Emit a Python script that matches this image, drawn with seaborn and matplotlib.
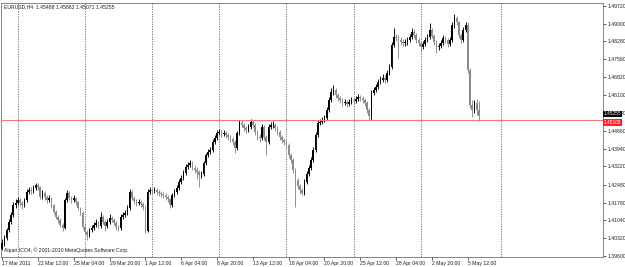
import numpy as np
import pandas as pd
import matplotlib
matplotlib.use("Agg")
import matplotlib.pyplot as plt
import matplotlib.transforms as mtransforms
import seaborn as sns

# ---------------- data ----------------
symbol_title = "EURUSD,H4  1.45488 1.45863 1.45071 1.45255"
copyright_text = "Alpari ICO4, \u00a9 2001-2010 MetaQuotes Software Corp."

first_open = 1.3990

closes = [
    1.4012, 1.4033, 1.4065, 1.4097, 1.4126, 1.4166, 1.4174, 1.4186, 1.4174, 1.4166,
    1.4186, 1.4219, 1.4227, 1.4223, 1.4235, 1.4247, 1.4239, 1.4199, 1.4215, 1.4199,
    1.4186, 1.4195, 1.4166, 1.4138, 1.4118, 1.4106, 1.4085, 1.4073, 1.4186, 1.4215,
    1.4195, 1.4186, 1.4195, 1.4178, 1.4154, 1.4134, 1.4077, 1.4057, 1.4045, 1.4065,
    1.4073, 1.4085, 1.4093, 1.4081, 1.4118, 1.4097, 1.4081, 1.4097, 1.4114, 1.4106,
    1.4093, 1.4077, 1.4073, 1.4118, 1.4126, 1.4134, 1.4154, 1.4219, 1.4195, 1.4182,
    1.4174, 1.4178, 1.4170, 1.4158, 1.4061, 1.4219, 1.4227, 1.4223, 1.4227, 1.4219,
    1.4215, 1.4211, 1.4207, 1.4199, 1.4190, 1.4166, 1.4207, 1.4219, 1.4235, 1.4259,
    1.4275, 1.4296, 1.4320, 1.4328, 1.4336, 1.4316, 1.4308, 1.4300, 1.4287, 1.4291,
    1.4336, 1.4368, 1.4380, 1.4389, 1.4421, 1.4437, 1.4457, 1.4461, 1.4453, 1.4457,
    1.4449, 1.4441, 1.4433, 1.4421, 1.4397, 1.4457, 1.4498, 1.4490, 1.4477, 1.4469,
    1.4481, 1.4502, 1.4490, 1.4461, 1.4441, 1.4437, 1.4481, 1.4441, 1.4421, 1.4481,
    1.4490, 1.4490, 1.4477, 1.4461, 1.4441, 1.4429, 1.4421, 1.4409, 1.4368, 1.4348,
    1.4308, 1.4267, 1.4243, 1.4227, 1.4215, 1.4259, 1.4291, 1.4316, 1.4348, 1.4389,
    1.4449, 1.4498, 1.4502, 1.4510, 1.4518, 1.4550, 1.4591, 1.4623, 1.4631, 1.4611,
    1.4599, 1.4591, 1.4579, 1.4583, 1.4575, 1.4583, 1.4591, 1.4587, 1.4595, 1.4603,
    1.4599, 1.4591, 1.4579, 1.4550, 1.4526, 1.4619, 1.4631, 1.4643, 1.4664, 1.4672,
    1.4680, 1.4672, 1.4700, 1.4724, 1.4813, 1.4845, 1.4841, 1.4833, 1.4825, 1.4821,
    1.4825, 1.4833, 1.4845, 1.4866, 1.4854, 1.4833, 1.4821, 1.4805, 1.4817, 1.4833,
    1.4845, 1.4874, 1.4850, 1.4825, 1.4805, 1.4809, 1.4821, 1.4841, 1.4833, 1.4817,
    1.4833, 1.4894, 1.4922, 1.4906, 1.4854, 1.4833, 1.4874, 1.4894, 1.4712, 1.4571,
    1.4550, 1.4579, 1.45488, 1.45255,
]

highs = [
    1.4030, 1.4045, 1.4075, 1.4108, 1.4138, 1.4178, 1.4190, 1.4198, 1.4195, 1.4182,
    1.4196, 1.4230, 1.4240, 1.4238, 1.4246, 1.4257, 1.4255, 1.4245, 1.4226, 1.4222,
    1.4206, 1.4208, 1.4200, 1.4172, 1.4145, 1.4126, 1.4112, 1.4092, 1.4196, 1.4226,
    1.4222, 1.4204, 1.4206, 1.4200, 1.4184, 1.4160, 1.4140, 1.4085, 1.4066, 1.4075,
    1.4085, 1.4098, 1.4110, 1.4102, 1.4138, 1.4125, 1.4104, 1.4108, 1.4130, 1.4122,
    1.4114, 1.4100, 1.4086, 1.4128, 1.4138, 1.4148, 1.4166, 1.4232, 1.4226, 1.4204,
    1.4192, 1.4190, 1.4186, 1.4178, 1.4166, 1.4230, 1.4240, 1.4236, 1.4238, 1.4234,
    1.4228, 1.4224, 1.4220, 1.4215, 1.4208, 1.4196, 1.4216, 1.4230, 1.4246, 1.4270,
    1.4288, 1.4308, 1.4332, 1.4342, 1.4350, 1.4344, 1.4326, 1.4318, 1.4308, 1.4302,
    1.4346, 1.4378, 1.4392, 1.4400, 1.4432, 1.4448, 1.4468, 1.4474, 1.4470, 1.4468,
    1.4466, 1.4458, 1.4450, 1.4440, 1.4428, 1.4466, 1.4510, 1.4508, 1.4496, 1.4486,
    1.4492, 1.4514, 1.4512, 1.4496, 1.4468, 1.4452, 1.4492, 1.4488, 1.4448, 1.4494,
    1.4502, 1.4504, 1.4498, 1.4484, 1.4468, 1.4450, 1.4438, 1.4428, 1.4416, 1.4376,
    1.4356, 1.4316, 1.4276, 1.4252, 1.4236, 1.4270, 1.4302, 1.4328, 1.4360, 1.4400,
    1.4460, 1.4510, 1.4516, 1.4522, 1.4530, 1.4562, 1.4604, 1.4640, 1.4651, 1.4640,
    1.4620, 1.4608, 1.4598, 1.4594, 1.4592, 1.4594, 1.4602, 1.4600, 1.4606, 1.4614,
    1.4612, 1.4608, 1.4600, 1.4586, 1.4558, 1.4630, 1.4644, 1.4656, 1.4676, 1.4686,
    1.4694, 1.4690, 1.4712, 1.4736, 1.4826, 1.4882, 1.4858, 1.4852, 1.4844, 1.4838,
    1.4836, 1.4846, 1.4858, 1.4882, 1.4876, 1.4862, 1.4842, 1.4830, 1.4828, 1.4846,
    1.4858, 1.4902, 1.4884, 1.4858, 1.4832, 1.4820, 1.4834, 1.4852, 1.4850, 1.4840,
    1.4846, 1.4906, 1.4939, 1.4930, 1.4912, 1.4862, 1.4886, 1.4908, 1.4906, 1.4720,
    1.4590, 1.4592, 1.4595, 1.45863,
]

lows = [
    1.3984, 1.4002, 1.4025, 1.4058, 1.4088, 1.4118, 1.4155, 1.4165, 1.4162, 1.4150,
    1.4158, 1.4178, 1.4210, 1.4212, 1.4215, 1.4226, 1.4228, 1.4190, 1.4190, 1.4188,
    1.4176, 1.4178, 1.4155, 1.4130, 1.4108, 1.4095, 1.4076, 1.4062, 1.4068, 1.4180,
    1.4186, 1.4176, 1.4178, 1.4168, 1.4145, 1.4124, 1.4068, 1.4046, 1.4025, 1.4038,
    1.4056, 1.4066, 1.4078, 1.4072, 1.4074, 1.4088, 1.4060, 1.4072, 1.4090, 1.4096,
    1.4084, 1.4066, 1.4062, 1.4066, 1.4108, 1.4116, 1.4126, 1.4148, 1.4186, 1.4172,
    1.4164, 1.4165, 1.4160, 1.4148, 1.4055, 1.4056, 1.4210, 1.4212, 1.4214, 1.4208,
    1.4204, 1.4200, 1.4196, 1.4188, 1.4180, 1.4156, 1.4160, 1.4198, 1.4210, 1.4228,
    1.4250, 1.4268, 1.4288, 1.4310, 1.4318, 1.4306, 1.4296, 1.4270, 1.4240, 1.4276,
    1.4284, 1.4328, 1.4360, 1.4372, 1.4380, 1.4412, 1.4428, 1.4448, 1.4442, 1.4444,
    1.4438, 1.4430, 1.4422, 1.4410, 1.4378, 1.4390, 1.4450, 1.4480, 1.4466, 1.4458,
    1.4460, 1.4474, 1.4480, 1.4450, 1.4430, 1.4420, 1.4430, 1.4430, 1.4368, 1.4414,
    1.4472, 1.4478, 1.4466, 1.4450, 1.4430, 1.4418, 1.4410, 1.4396, 1.4356, 1.4336,
    1.4296, 1.4160, 1.4230, 1.4212, 1.4205, 1.4208, 1.4250, 1.4282, 1.4308, 1.4340,
    1.4380, 1.4440, 1.4488, 1.4494, 1.4500, 1.4510, 1.4542, 1.4584, 1.4612, 1.4600,
    1.4588, 1.4580, 1.4568, 1.4570, 1.4564, 1.4566, 1.4574, 1.4576, 1.4578, 1.4586,
    1.4588, 1.4580, 1.4568, 1.4540, 1.4510, 1.4512, 1.4610, 1.4622, 1.4634, 1.4654,
    1.4662, 1.4660, 1.4664, 1.4690, 1.4716, 1.4804, 1.4830, 1.4760, 1.4812, 1.4810,
    1.4810, 1.4814, 1.4824, 1.4836, 1.4842, 1.4822, 1.4808, 1.4790, 1.4796, 1.4808,
    1.4826, 1.4836, 1.4840, 1.4812, 1.4780, 1.4794, 1.4800, 1.4812, 1.4822, 1.4804,
    1.4808, 1.4826, 1.4884, 1.4894, 1.4842, 1.4822, 1.4826, 1.4866, 1.4700, 1.4560,
    1.4522, 1.4540, 1.4530, 1.45071,
]

x_tick_bars = [0, 16, 32, 48, 64, 80, 96, 112, 128, 144, 160, 176, 192, 208]
x_tick_labels = ["17 Mar 2011", "22 Mar 12:00", "25 Mar 04:00", "29 Mar 20:00",
                 "1 Apr 12:00", "6 Apr 04:00", "8 Apr 20:00", "13 Apr 12:00",
                 "18 Apr 04:00", "20 Apr 20:00", "25 Apr 12:00", "28 Apr 04:00",
                 "2 May 20:00", "5 May 12:00"]
week_start_bars = [7, 37, 67, 97, 127, 157, 187, 223]

y_tick_values = [1.3960, 1.4032, 1.4104, 1.4176, 1.4248, 1.4322, 1.4394, 1.4466,
                 1.4538, 1.4610, 1.4682, 1.4756, 1.4828, 1.4900, 1.4972]
y_tick_labels = ["1.39600", "1.40320", "1.41040", "1.41760", "1.42480", "1.43220",
                 "1.43940", "1.44660", "1.45380", "1.46100", "1.46820", "1.47560",
                 "1.48280", "1.49000", "1.49720"]

level_price = 1.4510
level_label = "1.45100"
bid_price = 1.45255
bid_label = "1.45255"

# ---------------- style ----------------
sns.set_theme(style="white")
plt.rcParams["font.family"] = ["Liberation Sans", "DejaVu Sans"]

df = pd.DataFrame({"close": closes, "high": highs, "low": lows})
df["open"] = df["close"].shift(1).fillna(first_open)
df["bar"] = np.arange(len(df))
df["up"] = df["close"] >= df["open"]
colors = np.where(df["up"], "#000000", "#8a8a8a")

W, H = 625, 267
fig = plt.figure(figsize=(W / 100, H / 100), dpi=100, facecolor="white")
ax = fig.add_axes([0.5 / W, 10 / H, 602.5 / W, 254 / H])
ax.set_facecolor("white")

# vertical week grid
for b in week_start_bars:
    ax.axvline(b, color="#606060", lw=0.6, ls=(0, (1.5, 1.5)), zorder=1)

# candles
ax.vlines(df["bar"], df["low"], df["high"], colors=colors, linewidth=0.65, zorder=2)
body_h = (df["close"] - df["open"]).abs().clip(lower=0.00005)
body_b = df[["open", "close"]].min(axis=1)
ax.bar(df["bar"], body_h, bottom=body_b, width=0.72, color=colors, linewidth=0, zorder=3)

# horizontal level
ax.axhline(level_price, color="#f07a7a", lw=0.8, zorder=4)

ax.set_xlim(-0.7, 268.4)
ax.set_ylim(1.39560, 1.49831)

ax.yaxis.tick_right()
ax.set_yticks(y_tick_values)
ax.set_yticklabels(y_tick_labels)
ax.set_xticks(x_tick_bars)
ax.set_xticklabels(x_tick_labels)
for lab in ax.get_xticklabels():
    lab.set_ha("left")
ax.tick_params(axis="y", which="both", right=True, left=False, length=2, width=0.5,
               pad=1.2, labelsize=3.7, colors="#202020")
ax.tick_params(axis="x", which="both", bottom=True, length=2, width=0.5,
               pad=1.0, labelsize=3.7, colors="#202020")

for s in ax.spines.values():
    s.set_color("#707070")
    s.set_linewidth(0.6)
    s.set_visible(True)

trans = mtransforms.blended_transform_factory(ax.transAxes, ax.transData)
ax.text(1.0015, bid_price, bid_label, transform=trans, ha="left", va="bottom",
        fontsize=3.4, color="white", clip_on=False, zorder=6,
        bbox=dict(facecolor="black", edgecolor="none", pad=0.4))
ax.text(1.0015, level_price, level_label, transform=trans, ha="left", va="top",
        fontsize=3.4, color="white", clip_on=False, zorder=7,
        bbox=dict(facecolor="#ff2020", edgecolor="none", pad=0.4))

ax.text(0.005, 0.985, symbol_title, transform=ax.transAxes, ha="left", va="center",
        fontsize=3.7, color="#202020")
ax.text(0.005, 0.028, copyright_text, transform=ax.transAxes, ha="left", va="center",
        fontsize=3.7, color="#202020")

fig.savefig("out.png", dpi=100, facecolor="white")
